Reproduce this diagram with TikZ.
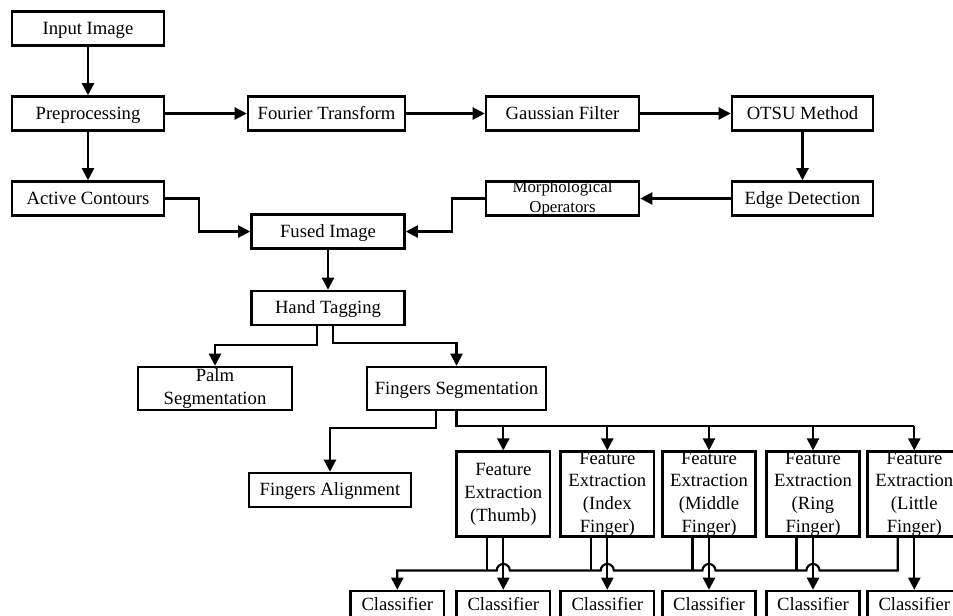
\documentclass[tikz,border=0pt]{standalone}
\usepackage{fontspec}
\setmainfont{Liberation Serif}
\usetikzlibrary{arrows.meta,calc}
\begin{document}
\begin{tikzpicture}[x=0.75pt,y=-0.75pt,
  box/.style={draw, line width=1.9pt, inner sep=0pt, align=center,
    font=\fontsize{14}{17}\selectfont, minimum height=25.5pt},
  sbox/.style={box, text height=11.5pt, text depth=3pt},
  fe/.style={box, minimum width=70pt, minimum height=63.75pt},
  cls/.style={sbox, minimum width=70pt, minimum height=21pt},
  line/.style={line width=1.6pt},
  arr/.style={line width=1.6pt, -{Triangle[length=9pt,width=9pt]}},
]
\useasboundingbox (0,0) rectangle (953,615);

% top part
\node[sbox, minimum width=114pt] (in) at (88,28.5) {Input Image};
\node[sbox, minimum width=114pt] (pre) at (88,113.5) {Preprocessing};
\node[sbox, minimum width=114pt] (act) at (88,198.5) {Active Contours};
\node[sbox, minimum width=117.75pt] (ft) at (326.5,113.5) {Fourier Transform};
\node[sbox, minimum width=114.75pt] (gf) at (562.5,113.5) {Gaussian Filter};
\node[sbox, minimum width=105.75pt] (otsu) at (802.5,113.5) {OTSU Method};
\node[sbox, minimum width=105.75pt] (edge) at (802.5,198.5) {Edge Detection};
\node[box, minimum width=114.75pt] (morph) at (562.5,198.5) {};
\node[font=\fontsize{12.6}{15}\selectfont, align=center, inner sep=0pt] (morphtxt) at (morph) {Morphological\\Operators};
\node[sbox, minimum width=114.75pt] (fused) at (328,231.5) {Fused Image};
\node[sbox, minimum width=114.75pt] (ht) at (328,308) {Hand Tagging};
\node[box, minimum width=115.5pt, minimum height=32.25pt] (palm) at (215,388.5) {Palm\\Segmentation};
\node[sbox, minimum width=134.25pt, minimum height=32.25pt] (fs) at (456.5,388.5) {Fingers Segmentation};
\node[sbox, minimum width=121.5pt] (fa) at (330,490) {Fingers Alignment};

% feature extraction
\node[fe] (f1) at (503.3,494.2) {Feature\\Extraction\\(Thumb)};
\node[fe] (f2) at (607.3,494.2) {Feature\\Extraction\\(Index\\Finger)};
\node[fe] (f3) at (709,494.2) {Feature\\Extraction\\(Middle\\Finger)};
\node[fe] (f4) at (813,494.2) {Feature\\Extraction\\(Ring\\Finger)};
\node[fe] (f5) at (914.3,494.2) {Feature\\Extraction\\(Little\\Finger)};

% classifiers
\node[cls] (c1) at (397.3,605) {Classifier};
\node[cls] (c2) at (503.3,605) {Classifier};
\node[cls] (c3) at (607.3,605) {Classifier};
\node[cls] (c4) at (709,605) {Classifier};
\node[cls] (c5) at (813,605) {Classifier};
\node[cls] (c6) at (914.3,605) {Classifier};

\coordinate (bus) at (0,426);
\coordinate (lbus) at (0,570.5);

% connectors
\draw[arr] (in) -- (pre);
\draw[arr] (pre) -- (act);
\draw[arr] (pre) -- (ft);
\draw[arr] (ft) -- (gf);
\draw[arr] (gf) -- (otsu);
\draw[arr] (otsu) -- (edge);
\draw[arr] (edge) -- (morph);
\draw[arr] (act.east) -- ++(34,0) |- (fused.west);
\draw[arr] (morph.west) -- ++(-33,0) |- (fused.east);
\draw[arr] (fused) -- (ht);
\draw[arr] ([xshift=-8.25pt]ht.south) -- ++(0,18.5) -| (palm.north);
\draw[arr] ([xshift=4pt]ht.south) -- ++(0,17) -| (fs.north);
\draw[arr] ([xshift=-15.4pt]fs.south) -- ++(0,16.5) -| (fa.north);
\draw[line] (fs.south) -- (fs.south |- bus) -- (bus -| f5.north);
\foreach \n in {f1,f2,f3,f4,f5} \draw[arr] (bus -| \n.north) -- (\n.north);

% lower bus to the first classifier, hopping over the direct lines
\foreach \n in {f1,f2,f3,f4}
  \draw[line] ($(\n.south)+(-16.5,0)$) -- ($(\n.south |- lbus)+(-16.5,0)$);
\draw[arr] ($(f5.south)+(-16.5,0)$) -- ($(f5.south |- lbus)+(-16.5,0)$)
  -- ($(f4.south |- lbus)+(6.5,0)$) arc[start angle=0,end angle=180,radius=4.9pt]
  -- ($(f3.south |- lbus)+(6.5,0)$) arc[start angle=0,end angle=180,radius=4.9pt]
  -- ($(f2.south |- lbus)+(6.5,0)$) arc[start angle=0,end angle=180,radius=4.9pt]
  -- ($(f1.south |- lbus)+(6.5,0)$) arc[start angle=0,end angle=180,radius=4.9pt]
  -- (c1.north |- lbus) -- (c1.north);

\draw[arr] (f1.south) -- (c2.north);
\draw[arr] (f2.south) -- (c3.north);
\draw[arr] (f3.south) -- (c4.north);
\draw[arr] (f4.south) -- (c5.north);
\draw[arr] (f5.south) -- (c6.north);
\end{tikzpicture}
\end{document}
